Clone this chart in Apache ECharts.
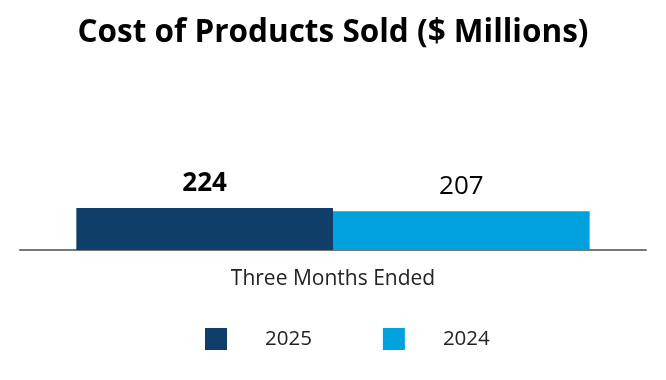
<!DOCTYPE html>
<html>
<head>
<meta charset="utf-8">
<script src="https://cdn.jsdelivr.net/npm/echarts@6/dist/echarts.min.js"></script>
<style>html,body{margin:0;padding:0;background:#fff}#c{width:666px;height:380px}</style>
</head>
<body>
<div id="c"></div>
<script>
const categories = ['Three Months Ended'];
const seriesNames = ['2025', '2024'];
const values2025 = [224];
const values2024 = [207];
const colors = ['#0F3F68', '#00A1DC'];

const chart = echarts.init(document.getElementById('c'));
chart.setOption({
  animation: false,
  textStyle: { fontFamily: 'Open Sans' },
  title: {
    text: 'Cost of Products Sold ($ Millions)',
    left: 'center', top: 12,
    textStyle: { fontFamily: 'Open Sans', fontWeight: 'bold', fontSize: 31.5, color: '#000' }
  },
  legend: {
    bottom: 25, left: 200,
    itemWidth: 22, itemHeight: 22, itemGap: 71,
    icon: 'rect',
    data: seriesNames,
    textStyle: { fontFamily: 'Open Sans', fontSize: 20.5, color: '#222', padding: [0, 0, 0, 33] }
  },
  grid: { left: 20, right: 20, top: 63, bottom: 130 },
  xAxis: {
    type: 'category', data: categories,
    axisLine: { lineStyle: { color: '#777', width: 2 } },
    axisTick: { show: false },
    axisLabel: { fontFamily: 'Open Sans', fontSize: 21, color: '#222', margin: 19 }
  },
  yAxis: { type: 'value', min: 0, max: 1000, show: false, splitLine: { show: false } },
  series: [
    {
      name: seriesNames[0], type: 'bar', data: values2025, barGap: '0%', barCategoryGap: '18%',
      itemStyle: { color: colors[0] },
      label: { show: true, position: 'top', distance: 12, fontFamily: 'Open Sans', fontWeight: 'bold', fontSize: 26, color: '#000' }
    },
    {
      name: seriesNames[1], type: 'bar', data: values2024, barGap: '0%', barCategoryGap: '18%',
      itemStyle: { color: colors[1] },
      label: { show: true, position: 'top', distance: 12, fontFamily: 'Open Sans', fontSize: 26, color: '#000' }
    }
  ]
});
</script>
</body>
</html>
